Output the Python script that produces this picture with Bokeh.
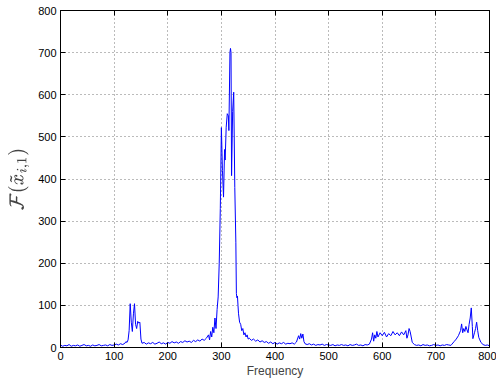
from bokeh.plotting import figure
from bokeh.models import Range1d, FixedTicker, LinearAxis, TeX
from bokeh.embed import file_html
from bokeh.resources import INLINE

freq = [0, 4, 8, 12, 16, 20, 24, 28, 32, 36, 40, 44, 48, 52, 56, 60, 64, 68, 72, 76,
        80, 84, 88, 92, 96, 100, 104, 108, 112, 116, 120, 122, 124, 126, 128, 130, 132, 134, 136, 138,
        140, 142, 144, 146, 148, 150, 152, 156, 160, 164, 168, 172, 176, 180, 184, 188, 192, 196, 200, 204,
        208, 212, 216, 220, 224, 228, 232, 236, 240, 244, 248, 252, 256, 260, 264, 268, 272, 276, 278, 280,
        282, 284, 286, 288, 290, 292, 294, 296, 298, 300, 302, 304, 306, 307, 309, 311, 313, 314, 316, 317,
        318, 319, 321, 323, 325, 327, 328, 329, 330, 331, 332, 334, 336, 338, 340, 342, 344, 346, 348, 350,
        352, 356, 360, 364, 368, 372, 376, 380, 384, 388, 392, 396, 400, 404, 408, 412, 416, 420, 424, 428,
        432, 436, 440, 444, 446, 448, 450, 452, 454, 456, 460, 464, 468, 472, 476, 480, 484, 488, 492, 496,
        500, 504, 508, 512, 516, 520, 524, 528, 532, 536, 540, 544, 548, 552, 556, 560, 564, 568, 572, 576,
        580, 582, 584, 586, 588, 590, 592, 596, 600, 604, 608, 612, 616, 620, 624, 628, 632, 636, 640, 644,
        646, 648, 650, 652, 654, 656, 660, 664, 668, 672, 676, 680, 684, 688, 692, 696, 700, 704, 708, 712,
        716, 720, 724, 728, 730, 734, 738, 742, 746, 748, 750, 752, 754, 756, 758, 760, 762, 764, 766, 768,
        769, 772, 774, 776, 778, 780, 782, 784, 788, 792, 796, 800]

amp = [6, 3, 5, 4, 7, 3, 5, 4, 6, 3, 5, 7, 4, 5, 3, 6, 4, 5, 7, 4,
       5, 6, 4, 7, 5, 6, 8, 6, 9, 7, 10, 14, 12, 18, 40, 104, 60, 38, 80, 104,
       55, 45, 62, 58, 60, 20, 10, 12, 8, 11, 9, 12, 8, 10, 13, 9, 11, 8, 12, 10,
       14, 11, 13, 10, 14, 12, 16, 13, 15, 12, 17, 14, 18, 15, 20, 17, 22, 30, 18, 38,
       25, 48, 35, 70, 45, 90, 120, 200, 330, 522, 420, 357, 470, 445, 523, 555, 550, 515, 700, 710,
       700, 408, 560, 606, 380, 250, 128, 118, 122, 100, 80, 60, 55, 40, 45, 30, 35, 25, 30, 20,
       22, 17, 20, 15, 18, 13, 16, 12, 14, 10, 13, 9, 12, 8, 11, 9, 12, 8, 10, 9,
       11, 8, 13, 28, 20, 33, 22, 32, 14, 9, 7, 9, 6, 8, 5, 7, 6, 8, 5, 7,
       6, 5, 7, 4, 6, 5, 7, 5, 6, 4, 7, 5, 6, 8, 5, 6, 4, 7, 6, 8,
       20, 35, 15, 30, 22, 38, 25, 35, 28, 36, 25, 33, 28, 38, 30, 35, 28, 37, 30, 40,
       22, 30, 45, 38, 25, 12, 7, 5, 6, 4, 7, 5, 6, 4, 5, 7, 5, 6, 4, 6,
       5, 7, 6, 5, 8, 14, 20, 28, 40, 56, 35, 45, 38, 50, 42, 35, 55, 70, 94, 50,
       21, 35, 45, 60, 40, 24, 18, 12, 7, 5, 6, 4]

x_ticks = [0, 100, 200, 300, 400, 500, 600, 700, 800]
y_ticks = [0, 100, 200, 300, 400, 500, 600, 700, 800]

FONT = "Liberation Sans"

p = figure(width=496, height=386, output_backend="svg", toolbar_location=None,
           x_range=Range1d(0, 800), y_range=Range1d(0, 800),
           min_border_left=60, min_border_right=7, min_border_top=10, min_border_bottom=39)

p.line(freq, amp, line_color="#0000FF", line_width=1)

p.outline_line_color = "black"
p.outline_line_width = 1
p.outline_line_alpha = 1

for ax, ticks in ((p.xaxis[0], x_ticks), (p.yaxis[0], y_ticks)):
    ax.ticker = FixedTicker(ticks=ticks)
    ax.major_tick_in = 5
    ax.major_tick_out = 0
    ax.minor_tick_line_color = None
    ax.axis_line_color = "black"
    ax.major_tick_line_color = "black"
    ax.major_label_text_font = FONT
    ax.major_label_text_font_size = "11px"
    ax.major_label_text_color = "black"

p.xaxis.axis_label = "Frequency"
p.xaxis.axis_label_text_font = FONT
p.xaxis.axis_label_text_font_size = "12px"
p.xaxis.axis_label_text_font_style = "normal"
p.xaxis.axis_label_standoff = 1
p.xaxis.major_label_standoff = 4

p.yaxis.axis_label = TeX(text=r"\mathcal{F}(\tilde{x}_{i,1})")
p.yaxis.axis_label_text_font_size = "16px"
p.yaxis.axis_label_standoff = 6
p.yaxis.major_label_standoff = 4

# MATLAB-style box: tick marks on the top and right edges too (no labels)
for loc, ticks in (("above", x_ticks), ("right", y_ticks)):
    a = LinearAxis(ticker=FixedTicker(ticks=ticks), major_tick_in=5, major_tick_out=0,
                   minor_tick_line_color=None, major_label_text_color=None,
                   major_label_text_font_size="1px", major_label_standoff=0,
                   axis_line_color="black", major_tick_line_color="black")
    p.add_layout(a, loc)

p.xgrid.ticker = FixedTicker(ticks=x_ticks)
p.ygrid.ticker = FixedTicker(ticks=y_ticks)
p.grid.grid_line_color = "#555555"
p.grid.grid_line_dash = "1 3"
p.grid.grid_line_width = 1
p.grid.grid_line_alpha = 0.8

p.background_fill_color = "white"
p.border_fill_color = "white"

open("out.html", "w").write(file_html(p, INLINE))
